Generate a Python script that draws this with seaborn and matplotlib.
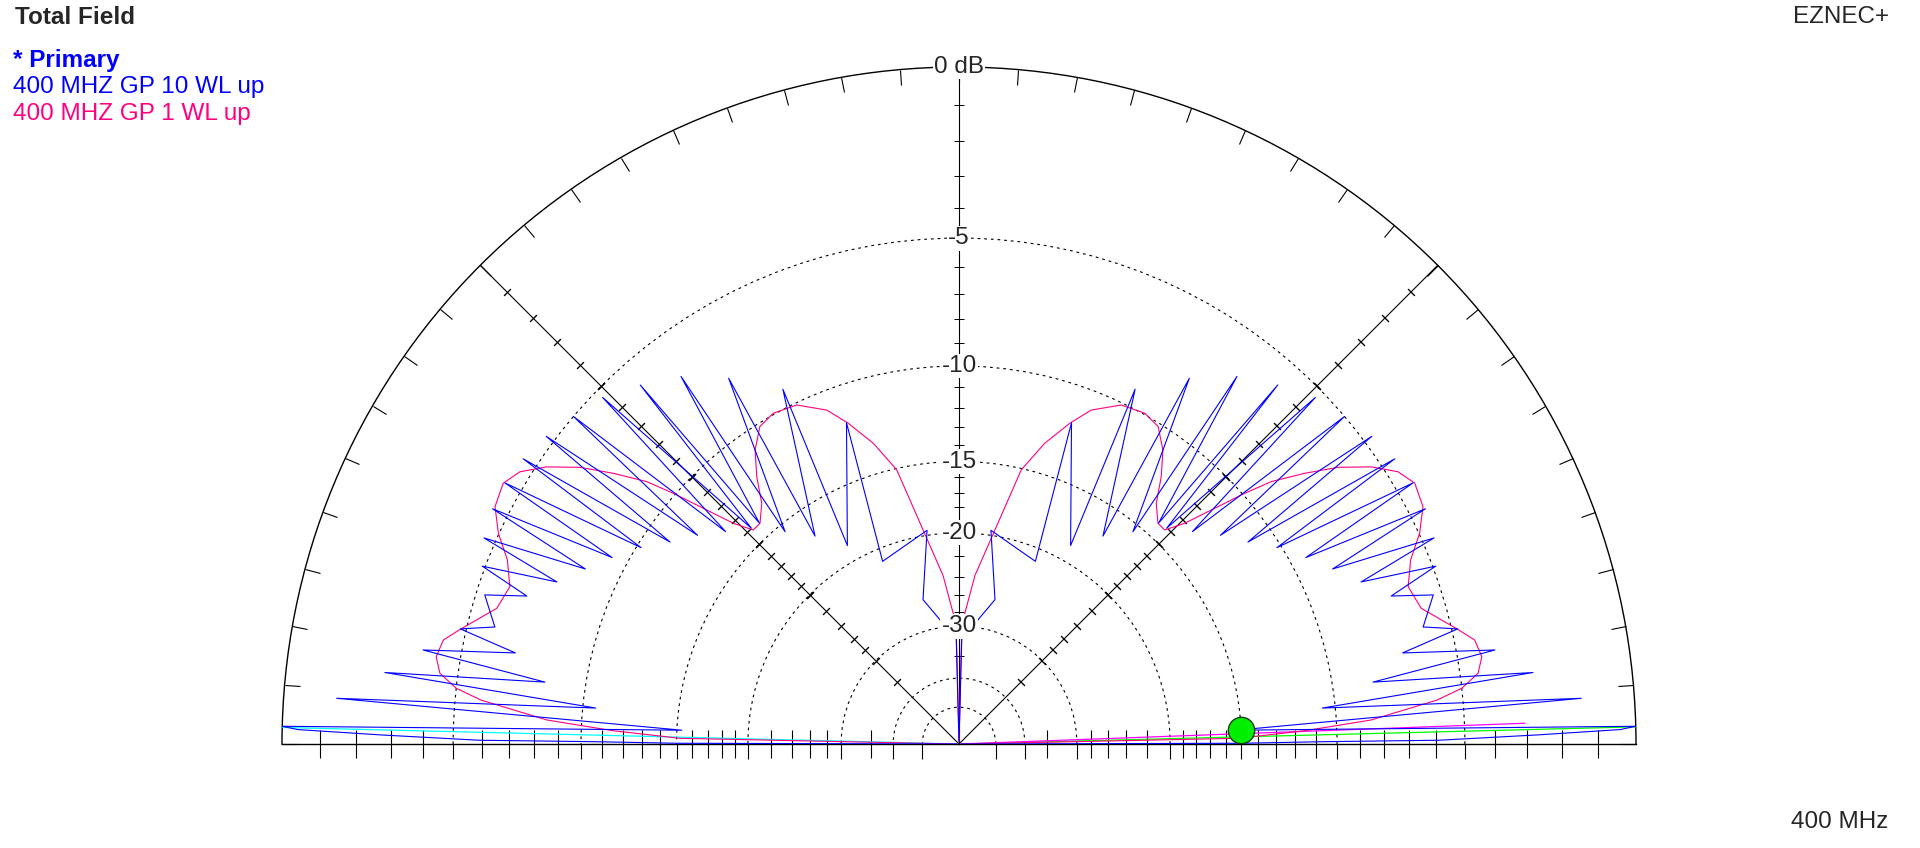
import numpy as np
import pandas as pd
import matplotlib
matplotlib.use("Agg")
import matplotlib.pyplot as plt
import seaborn as sns

# elevation pattern, vertices read from the left half of the chart
# (degrees above horizon, dB), in drawing order; the right half is its mirror
blue_elev = [0, 0.15, 0.36, 0.45, 0.9, 1.25, 1.5, 2.85, 4.2, 5.65, 7.1, 8.5, 9.95,
             11.6, 13.0, 14.15, 17.45, 18.9, 20.46, 21.95, 23.45, 25.1, 26.76,
             28.26, 29.9, 31.7, 33.2, 34.95, 36.7, 38.6, 40.35, 42.3, 44.2, 46.1,
             48.4, 47.9, 52.9, 50.67, 57.8, 55.3, 63.6, 60.65, 70.7, 67.3, 81.5, 76.0,
             88.5, 90]
blue_db = [-99, -15, -10.7, -5.9, -2.7, -0.4, 0, -15.3, -1.4, -10.6, -2.7, -8.25, -3.75,
           -6.9, -4.8, -5.95, -5.3, -6.75, -4.9, -7.65, -4.6, -8.5, -4.45,
           -9.3, -4.4, -10.2, -4.5, -11.2, -4.7, -12.1, -5.0, -13.1, -5.3, -14.0,
           -5.9, -14.1, -6.6, -15.5, -7.7, -16.9, -9.2, -18.7, -11.8, -21.1, -19.6, -26,
           -32, -99]

pink_elev = [0, 1.17, 2.2, 3.33, 5.25, 6.33, 7.76, 9.48, 11.4, 12.94, 16.36, 19.3,
             22.17, 24.58, 27.09, 29.78, 31.8, 33.9, 36.13, 38.06, 40.03, 41.26,
             42.67, 44.36, 46.13, 47.97, 50.66, 52.88, 55.24, 57.9, 60.68, 64.42,
             68.4, 70.96, 74.1, 77.2, 84.6, 88.6, 90]
pink_db = [-99, -15.2, -11.5, -8.5, -5.9, -5.0, -4.4, -4.2, -4.33, -4.8, -5.84, -6.05,
           -5.63, -4.98, -4.49, -4.36, -4.64, -5.31, -6.29, -7.43, -8.69, -9.9,
           -11.43, -13.09, -14.15, -14.13, -13.34, -12.07, -10.95, -10.15, -9.94, -10.1,
           -10.88, -11.86, -13.26, -15.08, -23.8, -29.7, -99]

# radial lines near the horizon (left cyan, right green and magenta)
cyan_elev = [1.4, 1.4]
cyan_db = [-99, 0]
green_elev = [1.45, 1.45]
green_db = [-99, 0]
magenta_elev = [2.1, 2.1]
magenta_db = [-99, -3.06]

# cursor ball on the right half
cursor_elev = 2.9
cursor_db = -15.0

ring_db = [-50, -40, -30, -20, -15, -10, -5]
ring_labels = {0: "0 dB", -5: "-5", -10: "-10", -15: "-15", -20: "-20", -30: "-30"}
tick_db = list(range(-1, -21, -1)) + [-22, -24, -26, -28, -35]

BLUE = "#0000FF"
PINK = "#FF0080"


# ARRL log scale: every 2 dB the radius shrinks by 0.89
def arrl_fwd(db):
    return np.exp(np.asarray(db, dtype=float) * np.log(0.89) / -2.0)


def arrl_inv(r):
    r = np.asarray(r, dtype=float)
    with np.errstate(divide="ignore", invalid="ignore"):
        return np.where(r > 0, -2.0 * np.log(np.where(r > 0, r, 1)) / np.log(0.89), -200)


def full_pattern(elev, db):
    elev = np.asarray(elev, dtype=float)
    db = np.asarray(db, dtype=float)
    th = np.concatenate([np.radians(elev), np.radians(180 - elev[::-1])])
    return pd.DataFrame({"theta": th, "db": np.concatenate([db, db[::-1]])})


sns.set_style("white")
plt.rcParams["font.family"] = ["Liberation Sans", "DejaVu Sans"]

W, H = 1920, 848
cx, cy, R = 959, 744, 677
fig = plt.figure(figsize=(W / 100, H / 100), dpi=100)
side = 2 * R
ax = fig.add_axes([(cx - R) / W, (H - cy - 0.25 * side) / H, side / W, side / H],
                  projection="polar")
ax.set_thetamin(0)
ax.set_thetamax(180)
ax.set_rscale("function", functions=(arrl_fwd, arrl_inv))
ax.set_ylim(-200, 0)

# grid
ax.set_xticks(np.radians([45, 90, 135]))
ax.set_xticks(np.radians(np.arange(0, 181, 5)), minor=True)
ax.xaxis.set_ticklabels([])
ax.xaxis.set_ticklabels([], minor=True)
ax.tick_params(axis="x", which="both", bottom=False, top=True, direction="in",
               length=11, width=0.8, color="black", labelbottom=False, labeltop=False)
ax.xaxis.grid(True, which="major", color="black", lw=0.8, ls="-")

ax.set_yticks(ring_db)
ax.set_yticks(tick_db, minor=True)
ax.yaxis.set_ticklabels([])
ax.yaxis.set_ticklabels([], minor=True)
ax.tick_params(axis="y", which="both", left=True, right=True,
               labelleft=False, labelright=False, color="black", width=0.8)
ax.tick_params(axis="y", which="major", direction="out", length=11)
ax.tick_params(axis="y", which="minor", direction="inout", length=10)
ax.yaxis.grid(True, which="major", color="black", lw=0.8, ls=(0, (2.5, 3.5)))

for sp in ax.spines.values():
    sp.set_color("black")
    sp.set_linewidth(1.0)

# small cross ticks on the 45, 90 and 135 degree lines
spoke_db = np.array(tick_db + [-5, -10, -15, -20, -30])
for ang, mk in [(90, "_"), (45, (2, 2, 45)), (135, (2, 2, -45))]:
    ax.plot(np.full(len(spoke_db), np.radians(ang)), spoke_db, ls="none",
            marker=mk, ms=7, mec="black", mew=0.7, zorder=2)

# traces
for elev, db, col in [(pink_elev, pink_db, PINK), (blue_elev, blue_db, BLUE)]:
    df = full_pattern(elev, db)
    sns.lineplot(data=df, x="theta", y="db", ax=ax, sort=False, estimator=None,
                 color=col, lw=0.8, zorder=4)

ax.plot(np.radians([180 - e for e in cyan_elev]), cyan_db, color="#00FFFF", lw=0.9, zorder=3)
ax.plot(np.radians(green_elev), green_db, color="#00FF00", lw=0.9, zorder=3)
ax.plot(np.radians(magenta_elev), magenta_db, color="#FF00FF", lw=0.9, zorder=3)
ax.plot(np.radians(cursor_elev), cursor_db, marker="o", ms=19, mfc="#00EE00",
        mec="#104010", mew=1, zorder=6)

# ring labels on the vertical axis
for db, lab in ring_labels.items():
    ax.text(np.pi / 2, db, lab, ha="center", va="center", fontsize=17.5, zorder=7,
            bbox=dict(facecolor="white", edgecolor="none", pad=1.0))

ax.set_xlabel("")
ax.set_ylabel("")

# header text
fig.text(15 / W, 1 - 24 / H, "Total Field", fontsize=17.5, fontweight="bold", va="baseline")
fig.text(13 / W, 1 - 67 / H, "* Primary", fontsize=17.5, fontweight="bold", color=BLUE, va="baseline")
fig.text(13 / W, 1 - 93.5 / H, "400 MHZ GP 10 WL up", fontsize=17.5, color=BLUE, va="baseline")
fig.text(13 / W, 1 - 120 / H, "400 MHZ GP 1 WL up", fontsize=17.5, color=PINK, va="baseline")
fig.text(1889 / W, 1 - 23 / H, "EZNEC+", fontsize=17.5, ha="right", va="baseline")
fig.text(1888 / W, 1 - 828 / H, "400 MHz", fontsize=17.5, ha="right", va="baseline")

fig.savefig("out.png", dpi=100, facecolor="white")
